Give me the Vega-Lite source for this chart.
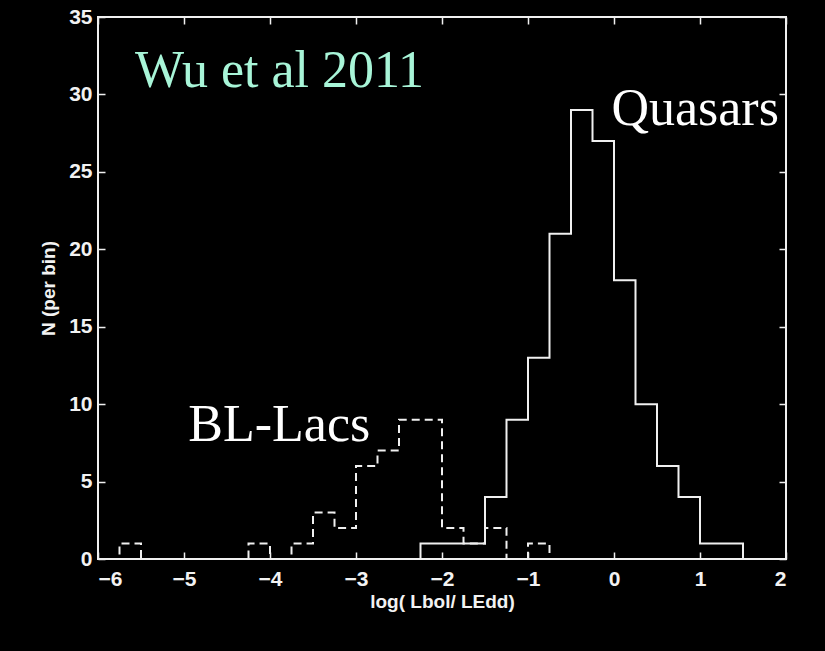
{
  "$schema": "https://vega.github.io/schema/vega-lite/v6.json",
  "width": 688,
  "height": 542,
  "autosize": "none",
  "padding": {"left": 98, "top": 17, "right": 39, "bottom": 92},
  "background": "#000000",
  "config": {
    "view": {"stroke": "#f0f0f0", "strokeWidth": 2},
    "axis": {
      "domain": false,
      "grid": false,
      "tickColor": "#f0f0f0",
      "tickWidth": 1.5,
      "tickSize": -7,
      "labelColor": "#f2f2f2",
      "labelFont": "Liberation Sans",
      "labelFontWeight": "bold",
      "labelFontSize": 21,
      "titleColor": "#f2f2f2",
      "titleFont": "Liberation Sans",
      "titleFontWeight": "bold",
      "titleFontSize": 19
    }
  },
  "datasets": {
    "quasars": [
      {"edge": -2.5, "n": 0}, {"edge": -2.25, "n": 1}, {"edge": -2.0, "n": 1},
      {"edge": -1.75, "n": 1}, {"edge": -1.5, "n": 4}, {"edge": -1.25, "n": 9},
      {"edge": -1.0, "n": 13}, {"edge": -0.75, "n": 21}, {"edge": -0.5, "n": 29},
      {"edge": -0.25, "n": 27}, {"edge": 0.0, "n": 18}, {"edge": 0.25, "n": 10},
      {"edge": 0.5, "n": 6}, {"edge": 0.75, "n": 4}, {"edge": 1.0, "n": 1},
      {"edge": 1.25, "n": 1}, {"edge": 1.5, "n": 0}
    ],
    "bllacs": [
      {"edge": -6.0, "n": 0}, {"edge": -5.75, "n": 1}, {"edge": -5.5, "n": 0},
      {"edge": -5.25, "n": 0}, {"edge": -5.0, "n": 0}, {"edge": -4.75, "n": 0},
      {"edge": -4.5, "n": 0}, {"edge": -4.25, "n": 1}, {"edge": -4.0, "n": 0},
      {"edge": -3.75, "n": 1}, {"edge": -3.5, "n": 3}, {"edge": -3.25, "n": 2},
      {"edge": -3.0, "n": 6}, {"edge": -2.75, "n": 7}, {"edge": -2.5, "n": 9},
      {"edge": -2.25, "n": 9}, {"edge": -2.0, "n": 2}, {"edge": -1.75, "n": 1},
      {"edge": -1.5, "n": 2}, {"edge": -1.25, "n": 0}, {"edge": -1.0, "n": 1},
      {"edge": -0.75, "n": 0}
    ],
    "labels": [
      {"text": "Wu et al 2011", "x": -5.57, "y": 30.47, "color": "#a8f5d8"},
      {"text": "Quasars", "x": -0.03, "y": 28.02, "color": "#ffffff"},
      {"text": "BL-Lacs", "x": -4.95, "y": 7.59, "color": "#ffffff"}
    ]
  },
  "layer": [
    {
      "data": {"name": "quasars"},
      "mark": {"type": "line", "interpolate": "step-after", "color": "#f0f0f0", "strokeWidth": 2},
      "encoding": {
        "x": {
          "field": "edge", "type": "quantitative",
          "scale": {"domain": [-6, 2], "nice": false, "zero": false},
          "axis": {"orient": "bottom", "values": [-6, -5, -4, -3, -2, -1, 0, 1, 2], "labelPadding": 16, "title": "log( Lbol/ LEdd)", "titlePadding": 3}
        },
        "y": {
          "field": "n", "type": "quantitative",
          "scale": {"domain": [0, 35], "nice": false},
          "axis": {"orient": "left", "values": [0, 5, 10, 15, 20, 25, 30, 35], "labelPadding": 13, "title": "N (per bin)", "titlePadding": 10}
        }
      }
    },
    {
      "data": {"name": "bllacs"},
      "mark": {"type": "line", "interpolate": "step-after", "color": "#f0f0f0", "strokeWidth": 2, "strokeDash": [8, 5]},
      "encoding": {
        "x": {
          "field": "edge", "type": "quantitative",
          "axis": {"orient": "top", "values": [-6, -5, -4, -3, -2, -1, 0, 1, 2], "labels": false, "title": null}
        },
        "y": {
          "field": "n", "type": "quantitative",
          "axis": {"orient": "right", "values": [0, 5, 10, 15, 20, 25, 30, 35], "labels": false, "title": null}
        }
      }
    },
    {
      "data": {"name": "labels"},
      "mark": {"type": "text", "font": "Liberation Serif", "fontSize": 52, "align": "left", "baseline": "alphabetic"},
      "encoding": {
        "x": {"field": "x", "type": "quantitative", "axis": null},
        "y": {"field": "y", "type": "quantitative", "axis": null},
        "text": {"field": "text"},
        "color": {"field": "color", "type": "nominal", "scale": null}
      }
    }
  ],
  "resolve": {"axis": {"x": "independent", "y": "independent"}}
}
